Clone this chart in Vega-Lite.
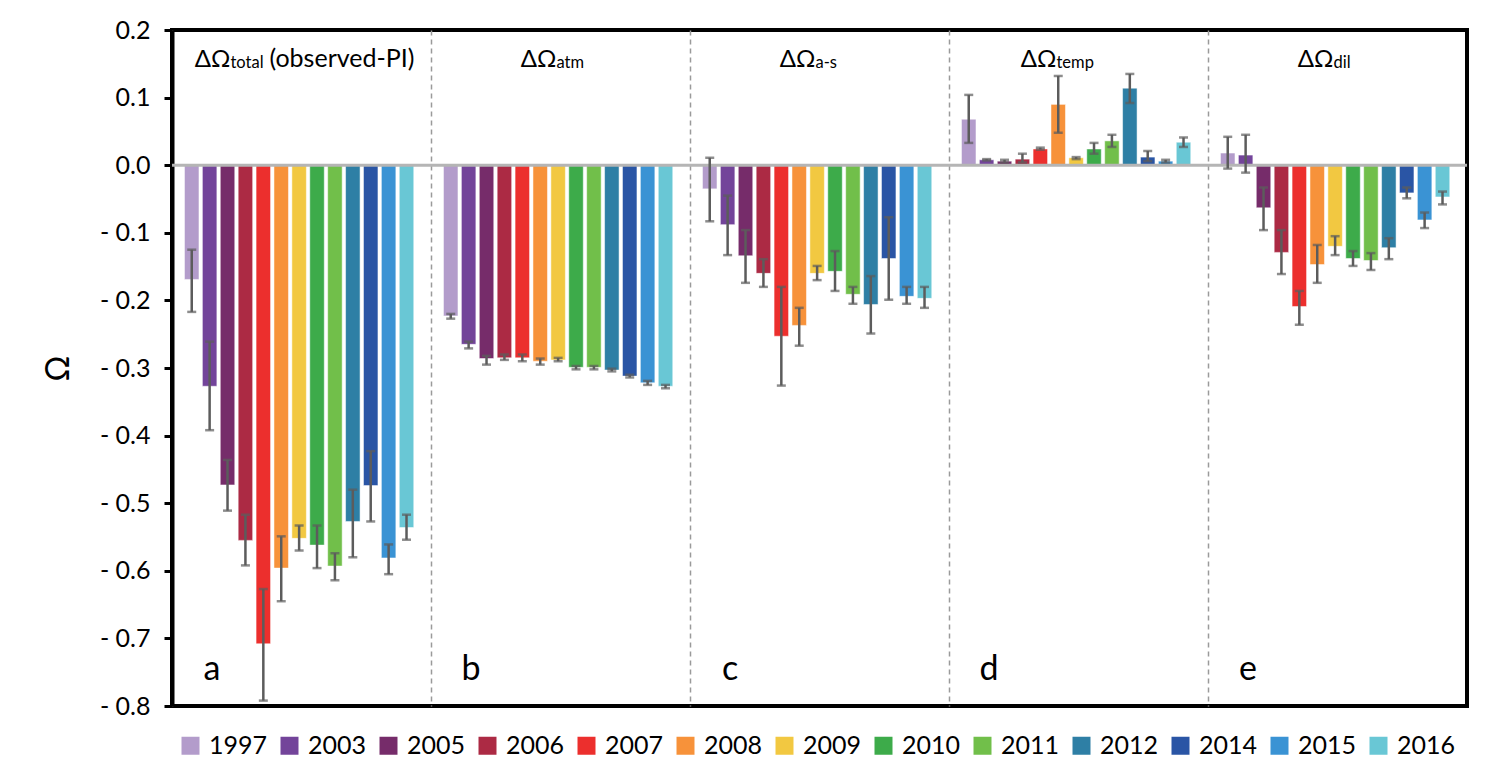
{
  "$schema": "https://vega.github.io/schema/vega-lite/v6.json",
  "width": 1295,
  "height": 676,
  "autosize": {"type": "none"},
  "padding": {"left": 172, "top": 30, "right": 30, "bottom": 74},
  "background": "white",
  "config": {
    "view": {"stroke": "black", "strokeWidth": 4},
    "font": "Lato"
  },
  "datasets": {
    "bars": [
      {"panel": "a", "year": "1997", "value": -0.169, "lo": -0.217, "hi": -0.125},
      {"panel": "a", "year": "2003", "value": -0.327, "lo": -0.392, "hi": -0.261},
      {"panel": "a", "year": "2005", "value": -0.473, "lo": -0.511, "hi": -0.436},
      {"panel": "a", "year": "2006", "value": -0.555, "lo": -0.592, "hi": -0.517},
      {"panel": "a", "year": "2007", "value": -0.708, "lo": -0.792, "hi": -0.627},
      {"panel": "a", "year": "2008", "value": -0.596, "lo": -0.645, "hi": -0.549},
      {"panel": "a", "year": "2009", "value": -0.552, "lo": -0.570, "hi": -0.533},
      {"panel": "a", "year": "2010", "value": -0.562, "lo": -0.596, "hi": -0.533},
      {"panel": "a", "year": "2011", "value": -0.593, "lo": -0.614, "hi": -0.574},
      {"panel": "a", "year": "2012", "value": -0.527, "lo": -0.580, "hi": -0.480},
      {"panel": "a", "year": "2014", "value": -0.474, "lo": -0.527, "hi": -0.423},
      {"panel": "a", "year": "2015", "value": -0.581, "lo": -0.605, "hi": -0.561},
      {"panel": "a", "year": "2016", "value": -0.536, "lo": -0.554, "hi": -0.517},
      {"panel": "b", "year": "1997", "value": -0.223, "lo": -0.227, "hi": -0.220},
      {"panel": "b", "year": "2003", "value": -0.265, "lo": -0.271, "hi": -0.261},
      {"panel": "b", "year": "2005", "value": -0.286, "lo": -0.295, "hi": -0.282},
      {"panel": "b", "year": "2006", "value": -0.285, "lo": -0.288, "hi": -0.280},
      {"panel": "b", "year": "2007", "value": -0.285, "lo": -0.290, "hi": -0.280},
      {"panel": "b", "year": "2008", "value": -0.290, "lo": -0.295, "hi": -0.286},
      {"panel": "b", "year": "2009", "value": -0.288, "lo": -0.290, "hi": -0.285},
      {"panel": "b", "year": "2010", "value": -0.299, "lo": -0.302, "hi": -0.297},
      {"panel": "b", "year": "2011", "value": -0.299, "lo": -0.302, "hi": -0.297},
      {"panel": "b", "year": "2012", "value": -0.303, "lo": -0.305, "hi": -0.301},
      {"panel": "b", "year": "2014", "value": -0.312, "lo": -0.314, "hi": -0.310},
      {"panel": "b", "year": "2015", "value": -0.322, "lo": -0.325, "hi": -0.319},
      {"panel": "b", "year": "2016", "value": -0.327, "lo": -0.330, "hi": -0.325},
      {"panel": "c", "year": "1997", "value": -0.035, "lo": -0.083, "hi": 0.011},
      {"panel": "c", "year": "2003", "value": -0.088, "lo": -0.133, "hi": -0.045},
      {"panel": "c", "year": "2005", "value": -0.134, "lo": -0.174, "hi": -0.096},
      {"panel": "c", "year": "2006", "value": -0.160, "lo": -0.180, "hi": -0.139},
      {"panel": "c", "year": "2007", "value": -0.253, "lo": -0.326, "hi": -0.180},
      {"panel": "c", "year": "2008", "value": -0.237, "lo": -0.267, "hi": -0.211},
      {"panel": "c", "year": "2009", "value": -0.160, "lo": -0.170, "hi": -0.149},
      {"panel": "c", "year": "2010", "value": -0.157, "lo": -0.186, "hi": -0.127},
      {"panel": "c", "year": "2011", "value": -0.191, "lo": -0.205, "hi": -0.180},
      {"panel": "c", "year": "2012", "value": -0.206, "lo": -0.249, "hi": -0.164},
      {"panel": "c", "year": "2014", "value": -0.138, "lo": -0.199, "hi": -0.077},
      {"panel": "c", "year": "2015", "value": -0.194, "lo": -0.205, "hi": -0.180},
      {"panel": "c", "year": "2016", "value": -0.197, "lo": -0.211, "hi": -0.180},
      {"panel": "d", "year": "1997", "value": 0.068, "lo": 0.033, "hi": 0.104},
      {"panel": "d", "year": "2003", "value": 0.008, "lo": 0.007, "hi": 0.009},
      {"panel": "d", "year": "2005", "value": 0.006, "lo": 0.004, "hi": 0.008},
      {"panel": "d", "year": "2006", "value": 0.009, "lo": 0.004, "hi": 0.017},
      {"panel": "d", "year": "2007", "value": 0.024, "lo": 0.023, "hi": 0.026},
      {"panel": "d", "year": "2008", "value": 0.090, "lo": 0.048, "hi": 0.132},
      {"panel": "d", "year": "2009", "value": 0.011, "lo": 0.009, "hi": 0.012},
      {"panel": "d", "year": "2010", "value": 0.024, "lo": 0.017, "hi": 0.033},
      {"panel": "d", "year": "2011", "value": 0.036, "lo": 0.027, "hi": 0.045},
      {"panel": "d", "year": "2012", "value": 0.114, "lo": 0.092, "hi": 0.135},
      {"panel": "d", "year": "2014", "value": 0.012, "lo": 0.006, "hi": 0.021},
      {"panel": "d", "year": "2015", "value": 0.006, "lo": 0.004, "hi": 0.008},
      {"panel": "d", "year": "2016", "value": 0.034, "lo": 0.027, "hi": 0.041},
      {"panel": "e", "year": "1997", "value": 0.018, "lo": -0.005, "hi": 0.042},
      {"panel": "e", "year": "2003", "value": 0.015, "lo": -0.011, "hi": 0.045},
      {"panel": "e", "year": "2005", "value": -0.063, "lo": -0.096, "hi": -0.033},
      {"panel": "e", "year": "2006", "value": -0.129, "lo": -0.161, "hi": -0.096},
      {"panel": "e", "year": "2007", "value": -0.209, "lo": -0.236, "hi": -0.186},
      {"panel": "e", "year": "2008", "value": -0.147, "lo": -0.174, "hi": -0.118},
      {"panel": "e", "year": "2009", "value": -0.120, "lo": -0.133, "hi": -0.105},
      {"panel": "e", "year": "2010", "value": -0.138, "lo": -0.149, "hi": -0.127},
      {"panel": "e", "year": "2011", "value": -0.141, "lo": -0.155, "hi": -0.130},
      {"panel": "e", "year": "2012", "value": -0.122, "lo": -0.139, "hi": -0.108},
      {"panel": "e", "year": "2014", "value": -0.041, "lo": -0.049, "hi": -0.033},
      {"panel": "e", "year": "2015", "value": -0.081, "lo": -0.093, "hi": -0.070},
      {"panel": "e", "year": "2016", "value": -0.047, "lo": -0.058, "hi": -0.039}
    ],
    "titles": [
      {"panel": "a", "main": "ΔΩ", "sub": "total", "rest": "(observed-PI)", "letter": "a"},
      {"panel": "b", "main": "ΔΩ", "sub": "atm", "rest": "", "letter": "b"},
      {"panel": "c", "main": "ΔΩ", "sub": "a-s", "rest": "", "letter": "c"},
      {"panel": "d", "main": "ΔΩ", "sub": "temp", "rest": "", "letter": "d"},
      {"panel": "e", "main": "ΔΩ", "sub": "dil", "rest": "", "letter": "e"}
    ]
  },
  "layer": [
    {
      "data": {"name": "bars"},
      "mark": {"type": "bar", "stroke": "white", "strokeWidth": 1, "strokeOpacity": 0.5},
      "encoding": {
        "x": {
          "field": "panel", "type": "nominal",
          "scale": {"domain": ["a", "b", "c", "d", "e"], "paddingInner": 0, "paddingOuter": 0},
          "axis": {"labels": false, "ticks": false, "domain": false, "title": null, "grid": true, "gridDash": [5, 4], "gridColor": "#9a9a9a", "gridWidth": 1.5, "bandPosition": 0}
        },
        "xOffset": {
          "field": "year", "type": "nominal",
          "scale": {"paddingInner": 0.19, "paddingOuter": 0.83, "align": 0.42}
        },
        "y": {
          "field": "value", "type": "quantitative",
          "scale": {"domain": [-0.8, 0.2], "nice": false},
          "axis": {
            "values": [-0.8, -0.7, -0.6, -0.5, -0.4, -0.3, -0.2, -0.1, 0, 0.1, 0.2],
            "labelExpr": "datum.value < -0.0001 ? '- ' + format(-datum.value, '.1f') : format(abs(datum.value), '.1f')",
            "title": "Ω", "titleFontSize": 32, "titleFontWeight": "normal", "titleColor": "black", "titlePadding": 24,
            "labelFontSize": 25, "labelColor": "black", "labelPadding": 14,
            "domainColor": "black", "domainWidth": 4,
            "tickColor": "black", "tickWidth": 3, "tickSize": 8, "grid": false
          }
        },
        "color": {
          "field": "year", "type": "nominal",
          "scale": {
            "domain": ["1997", "2003", "2005", "2006", "2007", "2008", "2009", "2010", "2011", "2012", "2014", "2015", "2016"],
            "range": ["#b39ccb", "#73449a", "#762c6a", "#ac2a44", "#ec2f2d", "#f7923a", "#f2c841", "#3dab4a", "#71bf4a", "#2e7fa5", "#2a55a5", "#3a93d4", "#69c7d5"]
          },
          "legend": {
            "orient": "none", "legendX": 6, "legendY": 703,
            "direction": "horizontal", "columns": 13, "gridAlign": "all",
            "title": null, "symbolType": "square", "symbolSize": 324, "symbolStrokeWidth": 0,
            "labelFontSize": 25, "labelColor": "black", "labelOffset": 6, "columnPadding": 9
          }
        }
      }
    },
    {
      "data": {"values": [{}]},
      "mark": {"type": "rule", "color": "#b5b5b5", "strokeWidth": 3},
      "encoding": {"y": {"datum": 0}}
    },
    {
      "data": {"name": "bars"},
      "mark": {"type": "rule", "color": "#5c5c5c", "strokeWidth": 2.5},
      "encoding": {
        "x": {"field": "panel", "type": "nominal"},
        "xOffset": {"field": "year", "type": "nominal"},
        "y": {"field": "lo", "type": "quantitative"},
        "y2": {"field": "hi"}
      }
    },
    {
      "data": {"name": "bars"},
      "mark": {"type": "tick", "color": "#5c5c5c", "thickness": 2.5, "size": 9},
      "encoding": {
        "x": {"field": "panel", "type": "nominal"},
        "xOffset": {"field": "year", "type": "nominal"},
        "y": {"field": "lo", "type": "quantitative"}
      }
    },
    {
      "data": {"name": "bars"},
      "mark": {"type": "tick", "color": "#5c5c5c", "thickness": 2.5, "size": 9},
      "encoding": {
        "x": {"field": "panel", "type": "nominal"},
        "xOffset": {"field": "year", "type": "nominal"},
        "y": {"field": "hi", "type": "quantitative"}
      }
    },
    {
      "data": {"name": "titles"},
      "transform": [{"filter": "datum.panel == 'a'"}],
      "mark": {"type": "text", "align": "right", "baseline": "alphabetic", "dx": -71, "fontSize": 24, "color": "black"},
      "encoding": {"x": {"field": "panel", "type": "nominal"}, "y": {"datum": 0.146}, "text": {"field": "main"}}
    },
    {
      "data": {"name": "titles"},
      "transform": [{"filter": "datum.panel == 'a'"}],
      "mark": {"type": "text", "align": "left", "baseline": "alphabetic", "dx": -71, "dy": 1, "fontSize": 16.5, "color": "black"},
      "encoding": {"x": {"field": "panel", "type": "nominal"}, "y": {"datum": 0.146}, "text": {"field": "sub"}}
    },
    {
      "data": {"name": "titles"},
      "transform": [{"filter": "datum.panel == 'a'"}],
      "mark": {"type": "text", "align": "left", "baseline": "alphabetic", "dx": -32, "fontSize": 25, "color": "black"},
      "encoding": {"x": {"field": "panel", "type": "nominal"}, "y": {"datum": 0.146}, "text": {"field": "rest"}}
    },
    {
      "data": {"name": "titles"},
      "transform": [{"filter": "datum.panel == 'b' || datum.panel == 'c' || datum.panel == 'e'"}],
      "mark": {"type": "text", "align": "right", "baseline": "alphabetic", "dx": -4, "fontSize": 24, "color": "black"},
      "encoding": {"x": {"field": "panel", "type": "nominal"}, "y": {"datum": 0.146}, "text": {"field": "main"}}
    },
    {
      "data": {"name": "titles"},
      "transform": [{"filter": "datum.panel == 'b' || datum.panel == 'c' || datum.panel == 'e'"}],
      "mark": {"type": "text", "align": "left", "baseline": "alphabetic", "dx": -4, "dy": 1, "fontSize": 16.5, "color": "black"},
      "encoding": {"x": {"field": "panel", "type": "nominal"}, "y": {"datum": 0.146}, "text": {"field": "sub"}}
    },
    {
      "data": {"name": "titles"},
      "transform": [{"filter": "datum.panel == 'd'"}],
      "mark": {"type": "text", "align": "right", "baseline": "alphabetic", "dx": -22, "fontSize": 24, "color": "black"},
      "encoding": {"x": {"field": "panel", "type": "nominal"}, "y": {"datum": 0.146}, "text": {"field": "main"}}
    },
    {
      "data": {"name": "titles"},
      "transform": [{"filter": "datum.panel == 'd'"}],
      "mark": {"type": "text", "align": "left", "baseline": "alphabetic", "dx": -22, "dy": 1, "fontSize": 16.5, "color": "black"},
      "encoding": {"x": {"field": "panel", "type": "nominal"}, "y": {"datum": 0.146}, "text": {"field": "sub"}}
    },
    {
      "data": {"name": "titles"},
      "mark": {"type": "text", "align": "center", "baseline": "alphabetic", "dx": 40, "fontSize": 34, "color": "black"},
      "encoding": {"x": {"field": "panel", "type": "nominal", "bandPosition": 0}, "y": {"datum": -0.762}, "text": {"field": "letter"}}
    }
  ]
}
